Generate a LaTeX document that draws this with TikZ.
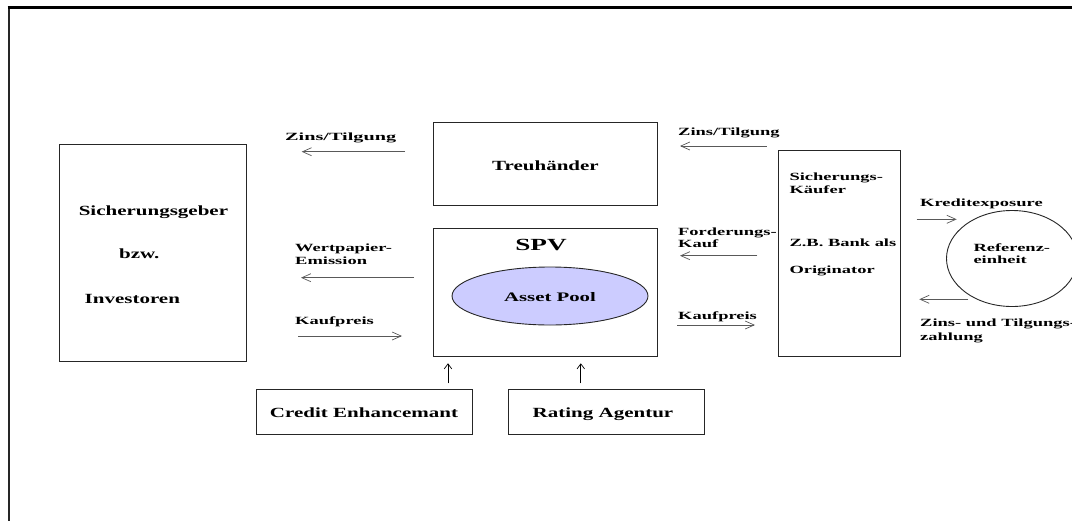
\documentclass[tikz,border=0pt]{standalone}
\usepackage{fontspec}
\setmainfont{Liberation Serif}
\usepackage{graphicx}
\usetikzlibrary{arrows.meta,shapes.geometric}
\definecolor{poolblau}{RGB}{204,204,255}
\newcommand{\lbl}[1]{\scalebox{1.68}[1]{#1}}
\newcommand{\btx}[1]{\scalebox{1.5}[1]{#1}}

\begin{document}
\begin{tikzpicture}
  [x=1pt,y=-1pt,
   kasten/.style={draw=black!85,line width=0.9pt,inner sep=0pt},
   beschr/.style={font=\fontsize{11}{13}\selectfont\bfseries,inner sep=0pt,anchor=base west},
   ktext/.style={font=\fontsize{14}{16}\selectfont\bfseries,inner sep=0pt,anchor=base west},
   pfeil/.style={draw=black!65,line width=0.7pt,-{Straight Barb[length=9pt,width=8pt]}},
   hoch/.style={draw=black,line width=0.7pt,-{Straight Barb[length=5pt,width=7.5pt]}}]
  \useasboundingbox (0,0) rectangle (1072,520);
  \clip (0,0) rectangle (1072,520);
  \draw[line width=2pt,black!85] (8.6,530) -- (8.6,7.5);
  \draw[line width=2.8pt,black] (7.6,7.5) -- (1080,7.5);

  % Kaesten
  \node[kasten,minimum width=187.3pt,minimum height=217.4pt] (geber) at (153.25,253) {};
  \node[kasten,minimum width=223.6pt,minimum height=82.7pt] (treu) at (545.2,163.65) {};
  \node[kasten,minimum width=223.6pt,minimum height=128pt] (spv) at (545.2,292) {};
  \node[kasten,ellipse,fill=poolblau,minimum width=196pt,minimum height=58pt] (pool) at (550,296) {};
  \node[kasten,minimum width=216pt,minimum height=45pt] (ce) at (364,411.5) {};
  \node[kasten,minimum width=195.4pt,minimum height=45pt] (rating) at (606.3,411.5) {};
  \node[kasten,minimum width=122.5pt,minimum height=206pt] (kaeufer) at (839.25,253) {};
  \node[kasten,ellipse,minimum width=131pt,minimum height=96pt] (referenz) at (1012,258.5) {};

  % Texte in den Kaesten
  \node[ktext] (geber1) at (78.6,215) {\btx{Sicherungsgeber}};
  \node[ktext] (geber2) at (119,258) {\btx{bzw.}};
  \node[ktext] (geber3) at (84.5,303) {\btx{Investoren}};
  \node[ktext,anchor=base] (treutxt) at (545.5,170) {\btx{Treuhänder}};
  \node[ktext,anchor=base,font=\fontsize{17}{19}\selectfont\bfseries] (spvtxt) at (541,250) {\scalebox{1.6}[1]{SPV}};
  \node[ktext,anchor=base,font=\fontsize{13}{15}\selectfont\bfseries] (pooltxt) at (550,301) {\scalebox{1.6}[1]{Asset Pool}};
  \node[ktext,anchor=base] (cetxt) at (364,417) {\btx{Credit Enhancemant}};
  \node[ktext,anchor=base] (ratingtxt) at (603,417) {\btx{Rating Agentur}};
  \node[beschr] (kaeufer1) at (789.3,180.7) {\lbl{Sicherungs-}};
  \node[beschr] (kaeufer2) at (789.3,193.3) {\lbl{Käufer}};
  \node[beschr] (kaeufer3) at (789.3,246) {\lbl{Z.B. Bank als}};
  \node[beschr] (kaeufer4) at (789.3,273.3) {\lbl{Originator}};
  \node[beschr] (ref1) at (973.3,251.7) {\lbl{Referenz-}};
  \node[beschr] (ref2) at (973.3,263.3) {\lbl{einheit}};

  % Beschriftungen der Pfeile
  \node[beschr] (zt1) at (285,140.7) {\scalebox{1.84}[1]{Zins/Tilgung}};
  \node[beschr] (zt2) at (678,135) {\lbl{Zins/Tilgung}};
  \node[beschr] (wp1) at (295,251) {\lbl{Wertpapier-}};
  \node[beschr] (wp2) at (295,264) {\lbl{Emission}};
  \node[beschr] (kp1) at (295,324.5) {\lbl{Kaufpreis}};
  \node[beschr] (fk1) at (678,235) {\lbl{Forderungs-}};
  \node[beschr] (fk2) at (678,247.3) {\lbl{Kauf}};
  \node[beschr] (kp2) at (678,319.3) {\lbl{Kaufpreis}};
  \node[beschr] (ke) at (920,206.7) {\lbl{Kreditexposure}};
  \node[beschr] (zz1) at (920,326) {\lbl{Zins- und Tilgungs-}};
  \node[beschr] (zz2) at (920,340) {\lbl{zahlung}};

  % Pfeilenden
  \coordinate (p1a) at (405,151.7);   \coordinate (p1b) at (301.7,151.7);
  \coordinate (p2a) at (766.7,146);   \coordinate (p2b) at (680,146);
  \coordinate (p3a) at (414,277.7);   \coordinate (p3b) at (301,277.7);
  \coordinate (p4a) at (298,336);     \coordinate (p4b) at (402,336);
  \coordinate (p5a) at (757.3,255.7); \coordinate (p5b) at (680,255.7);
  \coordinate (p6a) at (677.3,325);   \coordinate (p6b) at (755,325);
  \coordinate (p7a) at (916.7,219.3); \coordinate (p7b) at (956.7,219.3);
  \coordinate (p8a) at (968.3,299.3); \coordinate (p8b) at (919.3,299.3);
  \coordinate (p9a) at (448,383.3);   \coordinate (p9b) at (448,363.3);
  \coordinate (p10a) at (580.8,383.3); \coordinate (p10b) at (580.8,363.3);

  \foreach \from/\to in {p1a/p1b, p2a/p2b, p3a/p3b, p4a/p4b, p5a/p5b, p6a/p6b, p7a/p7b, p8a/p8b}
  \draw[pfeil] (\from) -- (\to);

  \foreach \from/\to in {p9a/p9b, p10a/p10b}
  \draw[hoch] (\from) -- (\to);
\end{tikzpicture}
\end{document}
